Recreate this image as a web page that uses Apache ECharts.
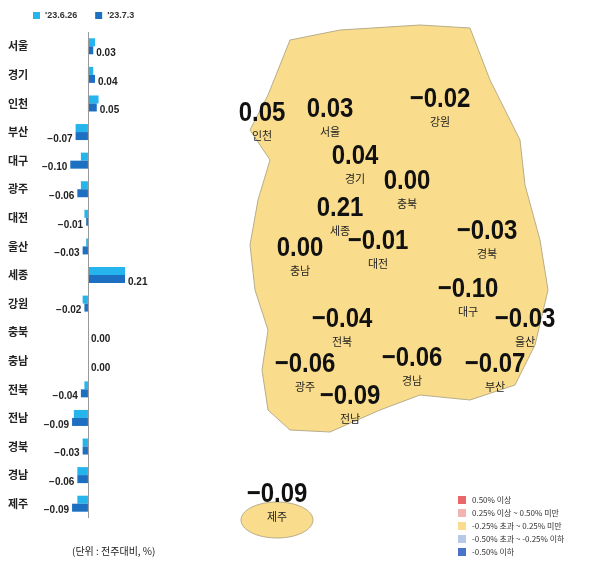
<!DOCTYPE html>
<html><head><meta charset="utf-8">
<script src="https://cdn.jsdelivr.net/npm/echarts@6/dist/echarts.min.js"></script>
<style>html,body{margin:0;padding:0;background:#fff}#c{width:600px;height:566px}</style>
</head><body><div id="c"></div>
<script>
var regions=['서울','경기','인천','부산','대구','광주','대전','울산','세종','강원','충북','충남','전북','전남','경북','경남','제주'];
var prevWeek=[0.04,0.03,0.06,-0.07,-0.04,-0.04,-0.02,-0.01,0.21,-0.03,0,0,-0.02,-0.08,-0.03,-0.06,-0.06];
var thisWeek=[0.03,0.04,0.05,-0.07,-0.10,-0.06,-0.01,-0.03,0.21,-0.02,0,0,-0.04,-0.09,-0.03,-0.06,-0.09];
var seriesNames=["'23.6.26","'23.7.3"];
// map label placement (pixel position of each region's number on the sketch map)
var mapPos={'서울':[330,123],'경기':[355,170],'인천':[262,127],'강원':[440,113],'충북':[407,195],'세종':[340,222],'대전':[378,255],'충남':[300,262],'경북':[487,245],'대구':[468,303],'울산':[525,333],'전북':[342,333],'광주':[305,378],'전남':[350,410],'경남':[412,372],'부산':[495,378],'제주':[277,508]};
var legendItems=['0.50% 이상','0.25% 이상 ~ 0.50% 미만','-0.25% 초과 ~ 0.25% 미만','-0.50% 초과 ~ -0.25% 이하','-0.50% 이하'];
var legendColors=['#e8676b','#f2b3b3','#f9dc8c','#b8c8e8','#4a74c9'];

var chart=echarts.init(document.getElementById('c'));
var fmt=function(v){return (v<0?'\u2212':'')+Math.abs(v).toFixed(2);};
var land=[[290,40],[340,30],[420,25],[470,28],[490,80],[520,140],[525,185],[540,240],[548,290],[535,345],[515,385],[470,400],[420,395],[380,410],[330,432],[290,430],[268,410],[262,370],[268,330],[255,290],[250,245],[258,200],[270,160],[250,130],[268,95]];
var mapTexts=[];
regions.forEach(function(r,i){
  var p=mapPos[r];
  mapTexts.push({type:'text',x:p[0],y:p[1],scaleY:1.15,style:{text:fmt(thisWeek[i]),font:'bold 24px "Liberation Sans",Arial',fill:'#111',align:'center',verticalAlign:'bottom'}});
  mapTexts.push({type:'text',x:p[0],y:p[1]+3,style:{text:r,font:'11px "Noto Sans CJK KR"',fill:'#222',align:'center',verticalAlign:'top'}});
});
var legendG=[];
legendItems.forEach(function(t,i){
  legendG.push({type:'rect',shape:{x:458,y:496+i*13,width:8,height:8},style:{fill:legendColors[i]}});
  legendG.push({type:'text',x:472,y:500+i*13,style:{text:t,font:'8px "Noto Sans CJK KR"',fill:'#333',verticalAlign:'middle'}});
});
chart.setOption({
  animation:false,
  legend:{top:6,left:28,itemWidth:7,itemHeight:7,itemGap:18,icon:'rect',textStyle:{fontSize:9,fontWeight:'bold',color:'#333'},data:seriesNames},
  grid:{left:35,top:32,width:90,bottom:48,containLabel:false,outerBoundsMode:'none'},
  xAxis:{type:'value',min:-0.3,max:0.21,show:false},
  yAxis:{type:'category',data:regions,inverse:true,axisLine:{show:false},axisTick:{show:false},
    axisLabel:{margin:27,align:'left',fontSize:11,color:'#222',fontFamily:'Noto Sans CJK KR',fontWeight:'bold'}},
  series:[
    {name:seriesNames[0],type:'bar',data:prevWeek,barWidth:8,barGap:'0%',itemStyle:{color:'#25b4ec'},
     markLine:{silent:true,symbol:'none',label:{show:false},lineStyle:{color:'#999',type:'solid',width:1},data:[{xAxis:0}]}},
    {name:seriesNames[1],type:'bar',data:thisWeek.map(function(v){return {value:v,label:{position:v<0?'left':'right'}};}),barWidth:8,itemStyle:{color:'#1d6fc2'},
     label:{show:true,fontSize:10,fontWeight:'bold',color:'#222',distance:3,offset:[0,3],formatter:function(p){return fmt(p.value);}}}
  ],
  graphic:[
    {type:'polygon',shape:{points:land},style:{fill:'#f9dc8c',stroke:'#b8ad8a',lineWidth:1}},
    {type:'ellipse',shape:{cx:277,cy:520,rx:36,ry:18},style:{fill:'#f9dc8c',stroke:'#b8ad8a',lineWidth:1}},
    {type:'text',left:72,top:546,style:{text:'(단위 : 전주대비, %)',font:'10px "Noto Sans CJK KR"',fill:'#222'}}
  ].concat(mapTexts).concat(legendG)
});
</script></body></html>
